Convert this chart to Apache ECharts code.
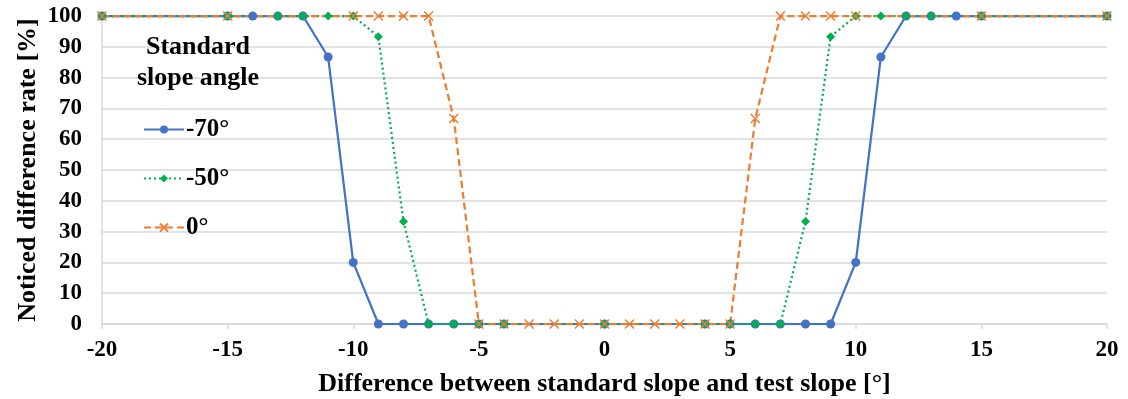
<!DOCTYPE html>
<html>
<head>
<meta charset="utf-8">
<script src="https://cdn.jsdelivr.net/npm/echarts@6/dist/echarts.min.js"></script>
<style>
html, body { margin: 0; padding: 0; background: #fff; }
#showChart { width: 1128px; height: 399px; }
</style>
</head>
<body>
<div id="showChart"></div>
<script>
// difference between standard slope and test slope [deg]
var x70 = [-20, -15, -14, -13, -12, -11, -10, -9, -8, -7, -6, -5, -4, 0, 4, 5, 6, 7, 8, 9, 10, 11, 12, 13, 14, 15, 20];
var y70 = [100, 100, 100, 100, 100, 86.7, 20, 0, 0, 0, 0, 0, 0, 0, 0, 0, 0, 0, 0, 0, 20, 86.7, 100, 100, 100, 100, 100];

var x50 = [-20, -15, -13, -12, -11, -10, -9, -8, -7, -6, -5, -4, 0, 4, 5, 6, 7, 8, 9, 10, 11, 12, 13, 15, 20];
var y50 = [100, 100, 100, 100, 100, 100, 93.3, 33.3, 0, 0, 0, 0, 0, 0, 0, 0, 0, 33.3, 93.3, 100, 100, 100, 100, 100, 100];

var x0 = [-20, -15, -10, -9, -8, -7, -6, -5, -4, -3, -2, -1, 0, 1, 2, 3, 4, 5, 6, 7, 8, 9, 10, 15, 20];
var y0 = [100, 100, 100, 100, 100, 100, 66.7, 0, 0, 0, 0, 0, 0, 0, 0, 0, 0, 0, 66.7, 100, 100, 100, 100, 100, 100];

var seriesNames = ['-70°', '-50°', '0°'];

function pairs(xs, ys) {
    var out = [];
    for (var i = 0; i < xs.length; i++) {
        out.push([xs[i], ys[i]]);
    }
    return out;
}

var font = '"Liberation Serif", "Times New Roman", serif';
var crossPath = 'path://M0,0L10,10M10,0L0,10';

var myChart = echarts.init(document.getElementById('showChart'), null, { renderer: 'canvas' });

var option = {
    backgroundColor: '#ffffff',
    animation: false,
    title: {
        text: 'Standard\nslope angle',
        left: 193,
        top: 27,
        textAlign: 'center',
        textStyle: {
            fontFamily: font,
            fontWeight: 'bold',
            fontSize: 26,
            lineHeight: 31,
            color: '#000'
        }
    },
    legend: {
        orient: 'vertical',
        left: 138,
        top: 112,
        itemWidth: 40,
        itemHeight: 10,
        itemGap: 24,
        data: seriesNames,
        textStyle: {
            fontFamily: font,
            fontWeight: 'bold',
            fontSize: 25,
            color: '#000',
            padding: [0, 0, 0, -3]
        }
    },
    grid: {
        left: 102,
        right: 21,
        top: 16,
        bottom: 75,
        containLabel: false,
        outerBoundsMode: 'none'
    },
    xAxis: {
        type: 'value',
        min: -20,
        max: 20,
        interval: 5,
        name: 'Difference between standard slope and test slope [°]',
        nameLocation: 'middle',
        nameGap: 47,
        nameMoveOverlap: false,
        nameTextStyle: {
            fontFamily: font,
            fontWeight: 'bold',
            fontSize: 26,
            color: '#000'
        },
        axisLine: { show: true, lineStyle: { color: '#d9d9d9', width: 1.5 } },
        axisTick: { show: true, length: 5, lineStyle: { color: '#d9d9d9', width: 1.5 } },
        axisLabel: {
            margin: 15,
            fontFamily: font,
            fontWeight: 'bold',
            fontSize: 23,
            color: '#000'
        },
        splitLine: { show: false }
    },
    yAxis: {
        type: 'value',
        min: 0,
        max: 100,
        interval: 10,
        name: 'Noticed difference rate [%]',
        nameLocation: 'middle',
        nameGap: 61,
        nameMoveOverlap: false,
        nameTextStyle: {
            fontFamily: font,
            fontWeight: 'bold',
            fontSize: 26,
            color: '#000'
        },
        axisLine: { show: true, onZero: false, lineStyle: { color: '#d9d9d9', width: 1.5 } },
        axisTick: { show: false },
        axisLabel: {
            margin: 20,
            fontFamily: font,
            fontWeight: 'bold',
            fontSize: 23,
            color: '#000'
        },
        splitLine: { show: true, lineStyle: { color: '#d9d9d9', width: 1.5 } }
    },
    series: [
        {
            name: seriesNames[0],
            type: 'line',
            data: pairs(x70, y70),
            symbol: 'circle',
            symbolSize: 9,
            color: '#4472C4',
            itemStyle: { color: '#4472C4' },
            lineStyle: { color: '#4472C4', width: 2.25, type: 'solid' }
        },
        {
            name: seriesNames[1],
            type: 'line',
            data: pairs(x50, y50),
            symbol: 'diamond',
            symbolSize: 9,
            color: '#00B050',
            itemStyle: { color: '#00B050' },
            lineStyle: { color: '#00B050', width: 2.25, type: [2, 3] }
        },
        {
            name: seriesNames[2],
            type: 'line',
            data: pairs(x0, y0),
            symbol: crossPath,
            symbolSize: 9,
            color: '#ED7D31',
            itemStyle: { color: '#ED7D31', borderColor: '#ED7D31', borderWidth: 1.5 },
            lineStyle: { color: '#ED7D31', width: 2.25, type: [7, 4] }
        }
    ]
};

myChart.setOption(option);
</script>
</body>
</html>
